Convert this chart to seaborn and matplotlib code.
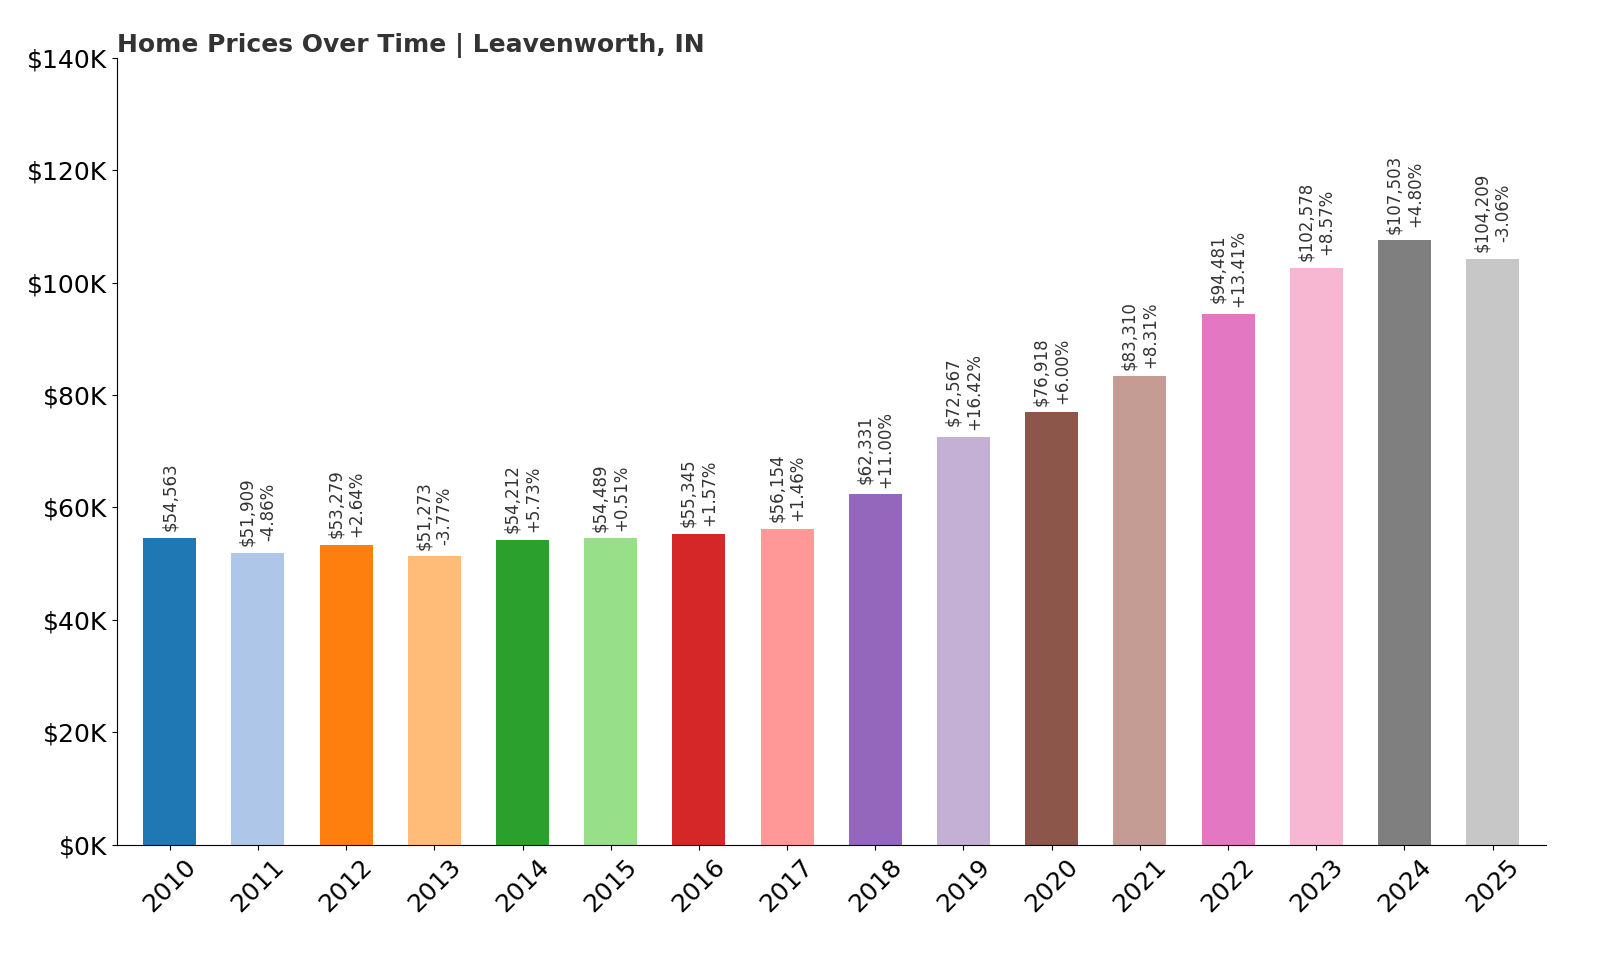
import matplotlib
matplotlib.use("Agg")
import matplotlib.pyplot as plt
import seaborn as sns
import pandas as pd

years = [str(y) for y in range(2010, 2026)]
prices = [54563, 51909, 53279, 51273, 54212, 54489, 55345, 56154, 62331, 72567,
          76918, 83310, 94481, 102578, 107503, 104209]
changes = [None, "-4.86%", "+2.64%", "-3.77%", "+5.73%", "+0.51%", "+1.57%", "+1.46%",
           "+11.00%", "+16.42%", "+6.00%", "+8.31%", "+13.41%", "+8.57%", "+4.80%", "-3.06%"]

df = pd.DataFrame({"year": years, "price": prices})
palette = sns.color_palette("tab20", 16)

fig = plt.figure(figsize=(16, 9.6), dpi=100)
ax = fig.add_axes([0.073, 0.12, 0.893, 0.82])
sns.barplot(data=df, x="year", y="price", hue="year", palette=palette, legend=False,
            width=0.6, saturation=1, ax=ax)
for i, (p, c) in enumerate(zip(prices, changes)):
    txt = f"${p:,}" if c is None else f"${p:,}\n{c}"
    ax.text(i, p + 1200, txt, rotation=90, ha="center", va="bottom", fontsize=12, color="#333333")
ax.set_ylim(0, 140000)
ax.set_xlim(-0.6, 15.6)
ax.set_yticks(range(0, 140001, 20000))
ax.set_yticklabels([f"${v//1000}K" for v in range(0, 140001, 20000)], fontsize=18)
ax.tick_params(axis="x", labelsize=18, rotation=45)
ax.set_xlabel("")
ax.set_ylabel("")
ax.spines["top"].set_visible(False)
ax.spines["right"].set_visible(False)
ax.set_title("Home Prices Over Time | Leavenworth, IN", loc="left", fontsize=18,
             fontweight="bold", color="#333333", pad=4)
fig.savefig("out.png", dpi=100)
